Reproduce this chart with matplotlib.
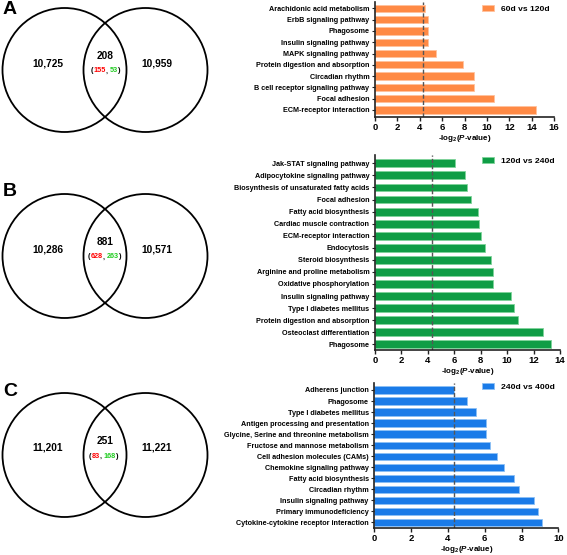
import numpy as np
import matplotlib
matplotlib.use("Agg")
import matplotlib.pyplot as plt
from matplotlib.patches import Circle

plt.rcParams['font.family'] = ['Liberation Sans', 'DejaVu Sans']
plt.rcParams['font.weight'] = 'bold'
plt.rcParams['mathtext.fontset'] = 'custom'
plt.rcParams['mathtext.rm'] = 'Liberation Sans:bold'
plt.rcParams['mathtext.it'] = 'Liberation Sans:bold:italic'
plt.rcParams['mathtext.bf'] = 'Liberation Sans:bold'

# Venn counts: left only, overlap, (up, down), right only
venn_left = [10725, 10286, 11201]
venn_overlap = [208, 881, 251]
venn_up = [155, 628, 83]
venn_down = [53, 263, 168]
venn_right = [10959, 10571, 11221]
panel_letters = ['A', 'B', 'C']

# KEGG pathways (listed top to bottom as drawn)
terms_a = ['Arachidonic acid metabolism', 'ErbB signaling pathway', 'Phagosome',
           'Insulin signaling pathway', 'MAPK signaling pathway',
           'Protein digestion and absorption', 'Circadian rhythm',
           'B cell receptor signaling pathway', 'Focal adhesion',
           'ECM-receptor interaction']
values_a = [4.5, 4.77, 4.77, 4.77, 5.42, 7.89, 8.84, 8.84, 10.63, 14.4]

terms_b = ['Jak-STAT signaling pathway', 'Adipocytokine signaling pathway',
           'Biosynthesis of unsaturated fatty acids', 'Focal adhesion',
           'Fatty acid biosynthesis', 'Cardiac muscle contraction',
           'ECM-receptor interaction', 'Endocytosis', 'Steroid biosynthesis',
           'Arginine and proline metabolism', 'Oxidative phosphorylation',
           'Insulin signaling pathway', 'Type I diabetes mellitus',
           'Protein digestion and absorption', 'Osteoclast differentiation',
           'Phagosome']
values_b = [6.05, 6.8, 6.93, 7.24, 7.77, 7.84, 8.02, 8.32, 8.78, 8.95, 8.95,
            10.29, 10.52, 10.84, 12.69, 13.29]

terms_c = ['Adherens junction', 'Phagosome', 'Type I diabetes mellitus',
           'Antigen processing and presentation',
           'Glycine, Serine and threonine metabolism',
           'Fructose and mannose metabolism', 'Cell adhesion molecules (CAMs)',
           'Chemokine signaling pathway', 'Fatty acid biosynthesis',
           'Circadian rhythm', 'Insulin signaling pathway',
           'Primary immunodeficiency', 'Cytokine-cytokine receptor interaction']
values_c = [4.35, 5.02, 5.51, 6.07, 6.07, 6.29, 6.69, 7.05, 7.61, 7.85, 8.68,
            8.91, 9.1]

legend_labels = ['60d vs 120d', '120d vs 240d', '240d vs 400d']
threshold = 4.32  # -log2(0.05)

W, H = 567, 555
fig = plt.figure(figsize=(W / 100, H / 100), dpi=100)

# ---- Venn diagrams, drawn in pixel coordinates ----
vax = fig.add_axes([0, 0, 1, 1])
vax.set_xlim(0, W)
vax.set_ylim(H, 0)
vax.axis('off')

venn_y = [70, 256, 455]
letter_y = [10, 191, 391]
paren_x = [91, 88, 89]
for i in range(3):
    cy = venn_y[i]
    vax.add_patch(Circle((64.5, cy), 62, fill=False, ec='black', lw=1.3))
    vax.add_patch(Circle((145.5, cy), 62, fill=False, ec='black', lw=1.3))
    vax.text(3, letter_y[i], panel_letters[i], fontsize=14, fontweight='bold',
             ha='left', va='center')
    vax.text(48, cy - 7, f'{venn_left[i]:,}', fontsize=7.3, ha='center', va='center')
    vax.text(157, cy - 7, f'{venn_right[i]:,}', fontsize=7.3, ha='center', va='center')
    vax.text(105, cy - 14, f'{venn_overlap[i]:,}', fontsize=7.3, ha='center', va='center')
    # multicoloured "(up, down)"
    pieces = [('(', 'black'), (str(venn_up[i]), 'red'), (', ', 'black'),
              (str(venn_down[i]), '#22cc22'), (')', 'black')]
    prev = vax.text(paren_x[i], cy + 1, pieces[0][0], fontsize=5.2,
                    color=pieces[0][1], ha='left', va='center')
    for txt, col in pieces[1:]:
        prev = vax.annotate(txt, xy=(1, 0.5), xycoords=prev, fontsize=5.2,
                            color=col, ha='left', va='center')

# ---- bar charts ----
panels = [
    (terms_a, values_a, '#ff8a45', '#ffc29e', 16, 2, [375, 554, 2, 117], 0.56, 0.62, 9),
    (terms_b, values_b, '#0f9d45', '#7fd39a', 14, 2, [375, 560, 155, 350], 0.69, 0.47, 161),
    (terms_c, values_c, '#1a7be8', '#8cc0f5', 10, 2, [374.3, 558.3, 382.7, 528], 0.66, 0.52, 387),
]

for (terms, vals, col, ecol, xmax, step, box, top_pad, bot_pad, leg_y), lab in zip(panels, legend_labels):
    x0, x1, y0, y1 = box
    ax = fig.add_axes([x0 / W, 1 - y1 / H, (x1 - x0) / W, (y1 - y0) / H])
    ax.set_zorder(2)
    ax.patch.set_alpha(0)
    n = len(terms)
    pos = np.arange(n)
    ax.barh(pos, vals, height=0.65, color=col, edgecolor=ecol, lw=0.6, label=lab)
    ax.axvline(threshold, color='#555555', ls=(0, (3, 1.5)), lw=1.0)
    ax.set_ylim(n - 1 + bot_pad, -top_pad)
    ax.set_xlim(0, xmax)
    ax.set_xticks(np.arange(0, xmax + 1, step))
    ax.set_yticks(pos)
    ax.set_yticklabels(terms, fontsize=5.2, fontweight='bold')
    ax.tick_params(axis='x', labelsize=6.8, length=3, width=1, pad=1.5, color='#222222')
    ax.tick_params(axis='y', length=2.5, width=0.8, pad=1.5, color='#222222')
    for lbl in ax.get_xticklabels():
        lbl.set_fontweight('bold')
    for s in ['top', 'right']:
        ax.spines[s].set_visible(False)
    for s in ['left', 'bottom']:
        ax.spines[s].set_linewidth(1.2)
        ax.spines[s].set_color('#222222')
    ax.set_xlabel(r'-log$_{2}$($\mathit{P}$-value)', fontsize=5.8, fontweight='bold', labelpad=0.5)
    ax.legend(loc='center left', bbox_to_anchor=(482 / W, 1 - leg_y / H),
              bbox_transform=fig.transFigure, frameon=False, fontsize=6.1,
              borderaxespad=0, borderpad=0, handlelength=1.45, handleheight=0.7,
              handletextpad=0.8)

fig.savefig('out.png', dpi=100)
